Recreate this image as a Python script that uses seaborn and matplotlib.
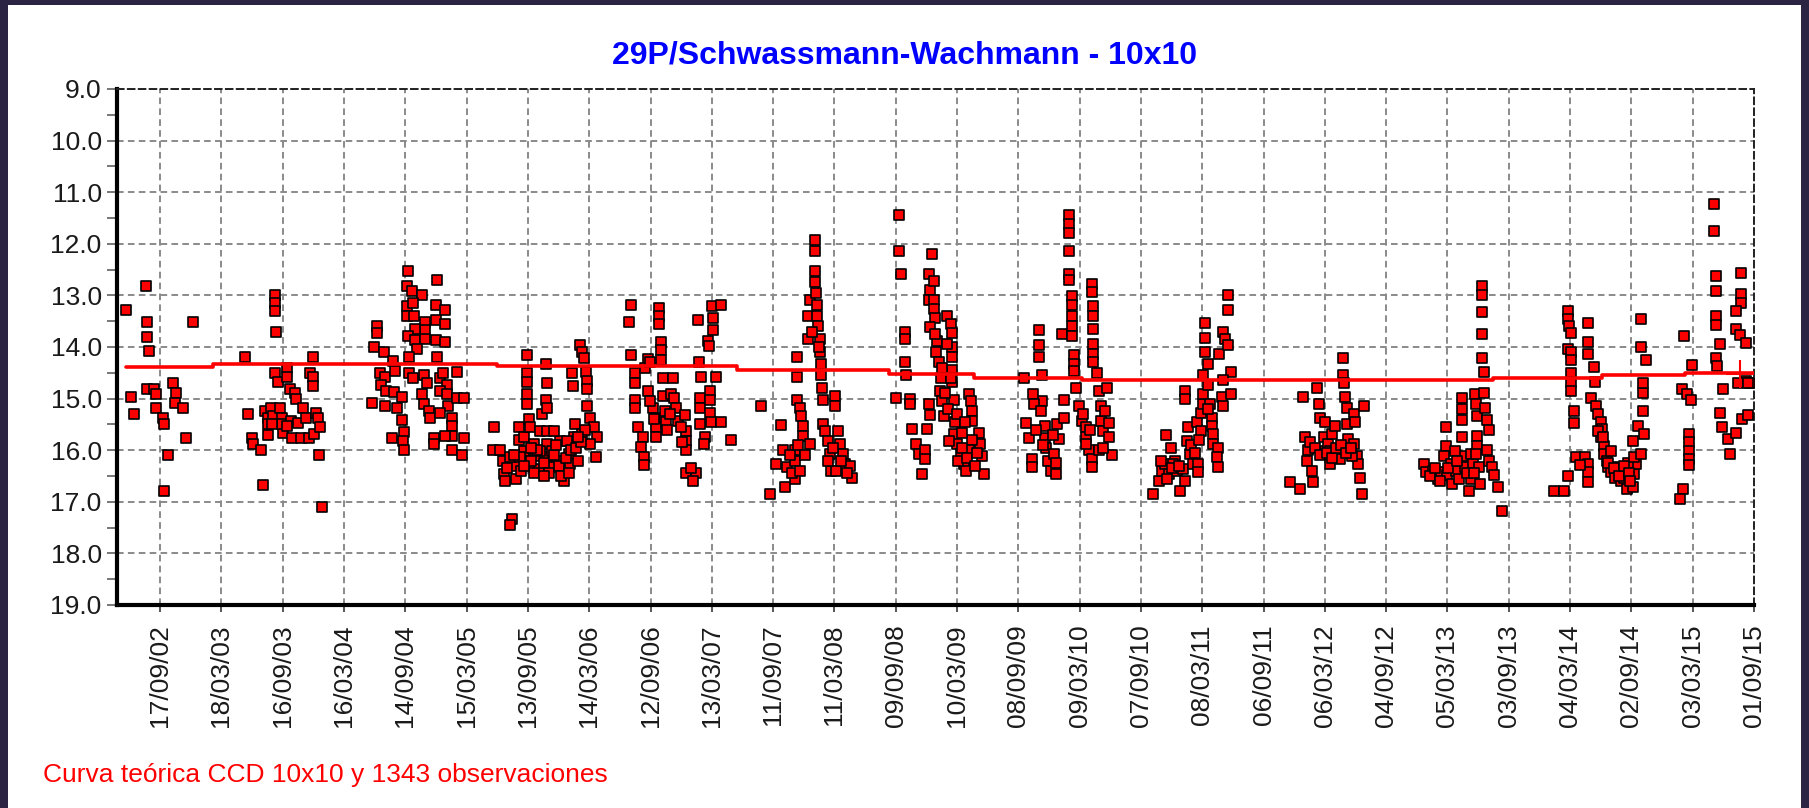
import numpy as np
import pandas as pd
import seaborn as sns
import matplotlib.pyplot as plt
import matplotlib.dates as mdates
from matplotlib.patches import Rectangle
from matplotlib.ticker import FormatStrFormatter, MultipleLocator

# observations per apparition: (days since 17/09/2002, magnitude)
season_2002 = [(-100, 13.29), (-42, 12.81), (-39, 13.52), (-40, 13.80), (-34, 14.08), (99, 13.52), (-87, 14.96),
               (-79, 15.29), (-39, 14.81), (-18, 14.81), (-13, 14.91), (-11, 15.18), (10, 15.37), (12, 15.50),
               (39, 14.70), (47, 14.89), (45, 15.08), (68, 15.18), (76, 15.76), (24, 16.10), (12, 16.79)]
season_2003 = [(252, 14.19), (342, 13.00), (342, 13.15), (342, 13.30), (344, 13.71), (453, 14.19), (341, 14.51),
               (351, 14.67), (378, 14.40), (378, 14.58), (385, 14.81), (401, 14.90), (403, 15.00), (445, 14.51),
               (455, 14.59), (453, 14.76), (262, 15.29), (274, 15.76), (276, 15.88), (299, 16.00), (304, 16.67),
               (311, 15.25), (319, 15.37), (319, 15.50), (321, 15.70), (329, 15.18), (334, 15.34), (357, 15.18),
               (362, 15.37), (364, 15.66), (362, 15.50), (388, 15.44), (393, 15.76), (408, 15.47), (418, 15.76),
               (423, 15.18), (433, 15.37), (443, 15.76), (458, 15.69), (463, 15.27), (468, 15.37), (474, 15.56),
               (472, 16.09), (482, 17.10), (332, 15.50), (378, 15.53)]
season_2004 = [(735, 12.52), (822, 12.71), (733, 12.81), (748, 12.91), (777, 13.00), (733, 13.20), (752, 13.15),
               (820, 13.19), (846, 13.29), (645, 13.59), (645, 13.73), (733, 13.39), (754, 13.40), (785, 13.51),
               (785, 13.68), (757, 13.65), (820, 13.48), (846, 13.56), (735, 13.78), (757, 13.87), (785, 13.85),
               (820, 13.87), (846, 13.90), (762, 14.04), (636, 14.00), (665, 14.10), (691, 14.27), (740, 14.19),
               (822, 14.19), (653, 14.51), (668, 14.58), (698, 14.47), (655, 14.73), (671, 14.85), (693, 14.88),
               (719, 14.97), (629, 15.08), (668, 15.15), (703, 15.18), (718, 15.42), (723, 15.65), (688, 15.76),
               (721, 15.82), (723, 16.00), (740, 14.51), (752, 14.60), (782, 14.54), (792, 14.70), (777, 14.92),
               (782, 15.11), (797, 15.25), (802, 15.37), (812, 15.76), (812, 15.88), (832, 14.60), (841, 14.51),
               (851, 14.73), (832, 14.85), (853, 14.92), (856, 15.15), (832, 15.28), (866, 15.37), (866, 15.53),
               (866, 15.72), (881, 14.49), (881, 14.99), (903, 14.99), (903, 15.76), (866, 16.00), (896, 16.09),
               (846, 15.72)]
season_2005 = [(990, 15.55), (988, 16.00), (1008, 16.00), (1018, 16.20), (1022, 16.46), (1025, 16.59), (1044, 17.34),
               (1040, 17.44), (1057, 16.56), (1057, 16.30), (1064, 15.55), (1064, 15.80), (1079, 15.74), (1079, 16.01),
               (1089, 14.16), (1089, 14.51), (1089, 14.67), (1089, 14.92), (1089, 15.11), (1094, 15.40), (1099, 15.55),
               (1094, 16.28), (1109, 15.88), (1114, 16.11), (1124, 16.37), (1129, 15.62), (1134, 15.30), (1146, 14.33),
               (1148, 14.70), (1146, 15.02), (1148, 15.18), (1148, 15.62), (1148, 15.88), (1148, 16.14), (1163, 16.01),
               (1178, 16.20), (1188, 15.82), (1196, 16.40), (1200, 16.59), (1213, 16.08), (1218, 16.27), (1228, 15.74),
               (1232, 15.50), (1242, 16.20), (1247, 13.97), (1252, 14.10), (1259, 14.22), (1222, 14.51), (1227, 14.76),
               (1265, 14.49), (1267, 14.65), (1267, 14.81), (1267, 15.15), (1275, 15.37), (1287, 15.55), (1297, 15.74),
               (1295, 16.14), (1277, 15.88), (1252, 15.69), (1168, 15.62), (1208, 15.82), (1039, 16.14), (1069, 16.14),
               (1129, 16.01), (1163, 16.33), (1030, 16.35), (1050, 16.10), (1070, 16.40), (1100, 16.20), (1110, 16.45),
               (1120, 16.00), (1140, 16.25), (1155, 16.45), (1170, 16.10), (1185, 16.30), (1205, 16.15), (1220, 16.00),
               (1235, 15.95), (1250, 15.85), (1260, 15.60), (1190, 16.50), (1140, 16.50), (1080, 16.30), (1100, 15.95),
               (1175, 15.90), (1215, 16.45), (1240, 15.75)]
season_2006 = [(1399, 13.19), (1391, 13.52), (1397, 14.16), (1409, 14.51), (1411, 14.70), (1411, 15.02), (1411, 15.18),
               (1419, 15.55), (1433, 15.74), (1428, 15.93), (1436, 16.14), (1436, 16.28), (1448, 14.85), (1448, 14.23),
               (1480, 13.24), (1480, 13.39), (1480, 13.56), (1486, 13.90), (1486, 14.06), (1486, 14.25), (1463, 15.18),
               (1468, 15.37), (1473, 15.55), (1473, 15.74), (1493, 14.60), (1493, 14.95), (1498, 15.24), (1503, 15.46),
               (1518, 14.92), (1522, 14.60), (1527, 14.99), (1532, 15.18), (1537, 15.44), (1557, 15.32), (1562, 15.62),
               (1562, 15.82), (1562, 16.00), (1562, 16.44), (1592, 16.44), (1582, 16.59), (1597, 13.48), (1599, 14.30),
               (1607, 14.58), (1602, 14.99), (1604, 15.18), (1604, 15.50), (1618, 15.74), (1615, 15.88), (1628, 13.89),
               (1631, 13.98), (1638, 13.21), (1641, 13.43), (1641, 13.68), (1664, 13.19), (1634, 14.85), (1634, 15.02),
               (1634, 15.27), (1636, 15.46), (1651, 14.58), (1664, 15.46), (1694, 15.80), (1455, 15.05), (1465, 15.40),
               (1505, 15.60), (1515, 15.30), (1545, 15.55), (1550, 15.85), (1575, 16.35), (1440, 14.40), (1455, 14.30)]
season_2007 = [(1783, 15.14), (1812, 16.85), (1842, 15.51), (1829, 16.27), (1849, 16.00), (1854, 16.72), (1862, 16.33),
               (1884, 16.56), (1884, 16.20), (1886, 16.00), (1892, 15.02), (1899, 15.18), (1904, 15.34), (1909, 15.53),
               (1909, 15.72), (1928, 15.88), (1892, 14.19), (1892, 14.58), (1923, 13.84), (1923, 13.39), (1928, 13.08),
               (1943, 11.93), (1943, 12.14), (1943, 12.53), (1943, 12.75), (1951, 13.19), (1951, 13.39), (1953, 13.59),
               (1958, 13.84), (1958, 14.10), (1961, 14.33), (1961, 14.54), (1965, 14.79), (1968, 15.02), (2003, 14.95),
               (2003, 15.14), (1968, 15.50), (1975, 15.62), (1983, 15.82), (1988, 16.08), (1993, 16.40), (2012, 15.62),
               (2017, 15.88), (2027, 16.08), (2032, 16.27), (2047, 16.30), (2054, 16.53), (2007, 16.40), (1983, 16.20),
               (1870, 16.10), (1875, 16.45), (1895, 15.90), (1900, 16.40), (1915, 16.10), (1935, 13.70), (1948, 12.95),
               (1955, 14.00), (1998, 15.95), (2020, 16.20), (2040, 16.45)]
season_2008 = [(2195, 11.44), (2195, 12.14), (2201, 12.58), (2291, 12.19), (2210, 13.71), (2210, 13.85), (2210, 14.29),
               (2215, 14.54), (2186, 14.99), (2225, 15.00), (2225, 15.10), (2233, 15.59), (2243, 15.88), (2253, 16.08),
               (2271, 16.00), (2271, 16.17), (2261, 16.46), (2278, 15.59), (2283, 15.11), (2285, 15.31), (2283, 12.58),
               (2287, 12.89), (2297, 12.73), (2283, 13.08), (2297, 13.08), (2297, 13.27), (2300, 13.43), (2287, 13.62),
               (2307, 13.88), (2304, 14.10), (2312, 14.29), (2317, 14.61), (2314, 14.85), (2322, 15.05), (2327, 15.34),
               (2337, 13.40), (2347, 13.56), (2352, 13.72), (2352, 14.00), (2350, 14.19), (2352, 14.44), (2352, 14.67),
               (2357, 15.02), (2360, 15.46), (2357, 15.69), (2367, 15.88), (2377, 16.08), (2387, 16.27), (2392, 16.40),
               (2401, 14.92), (2406, 15.05), (2409, 15.24), (2411, 15.44), (2431, 15.66), (2433, 15.88), (2439, 16.11),
               (2446, 16.46), (2409, 15.81), (2401, 16.00), (2382, 15.66), (2342, 15.82), (2347, 14.60), (2300, 13.75),
               (2320, 14.40), (2330, 14.90), (2340, 15.20), (2365, 15.30), (2370, 16.20), (2380, 15.95), (2395, 16.15),
               (2420, 16.30), (2425, 16.05), (2390, 15.45), (2335, 13.95)]
season_2009 = [(2565, 14.61), (2609, 13.67), (2609, 13.97), (2609, 14.19), (2617, 14.54), (2617, 15.04), (2591, 14.92),
               (2594, 15.11), (2572, 15.48), (2580, 15.76), (2588, 16.17), (2588, 16.33), (2614, 15.24), (2627, 15.53),
               (2627, 15.76), (2629, 15.95), (2637, 16.20), (2644, 16.40), (2654, 16.08), (2661, 16.24), (2661, 16.46),
               (2669, 15.78), (2664, 15.50), (2684, 15.02), (2684, 15.37), (2678, 13.75), (2698, 11.44), (2698, 11.62),
               (2698, 11.80), (2698, 12.14), (2698, 12.58), (2698, 12.70), (2706, 13.01), (2706, 13.19), (2706, 13.39),
               (2706, 13.59), (2706, 13.78), (2713, 14.16), (2713, 14.32), (2713, 14.47), (2720, 14.79), (2728, 15.14),
               (2736, 15.44), (2748, 15.56), (2750, 15.75), (2758, 16.00), (2766, 16.17), (2766, 16.33), (2766, 12.78),
               (2766, 12.93), (2770, 13.21), (2770, 13.40), (2770, 13.65), (2770, 13.94), (2770, 14.13), (2770, 14.29),
               (2780, 14.51), (2786, 14.85), (2793, 15.14), (2793, 15.44), (2798, 15.62), (2810, 14.79), (2817, 15.48),
               (2817, 15.75), (2825, 16.09), (2788, 16.00), (2748, 15.88), (2600, 15.60), (2620, 15.90), (2650, 15.70),
               (2740, 15.30), (2760, 15.60), (2800, 15.95), (2805, 15.25)]
season_2010 = [(2949, 16.85), (2967, 16.59), (2974, 16.40), (2986, 15.71), (3000, 15.95), (2983, 16.27), (2996, 16.46),
               (3013, 16.20), (3018, 16.40), (3028, 16.80), (3043, 16.59), (3036, 16.37), (3050, 15.82), (3053, 15.55),
               (3058, 16.08), (3067, 16.26), (3082, 16.27), (3082, 16.43), (3077, 15.46), (3089, 15.62), (3089, 15.27),
               (3095, 15.11), (3095, 14.92), (3102, 13.53), (3102, 13.82), (3102, 14.10), (3112, 14.32), (3097, 14.54),
               (3112, 14.73), (3117, 15.11), (3122, 15.37), (3122, 15.53), (3127, 15.69), (3127, 15.88), (3142, 15.95),
               (3139, 16.14), (3142, 16.33), (3145, 14.13), (3156, 13.71), (3161, 13.84), (3171, 13.97), (3171, 13.00),
               (3171, 13.29), (3178, 14.48), (3156, 14.64), (3152, 14.96), (3155, 15.15), (3178, 14.91), (3043, 14.85),
               (3043, 15.00), (2970, 16.20), (3008, 16.27), (2990, 16.55), (3005, 16.35), (3025, 16.30), (3060, 15.90),
               (3072, 16.05), (3085, 15.80), (3110, 15.20)]
season_2011 = [(3355, 16.62), (3384, 16.76), (3392, 14.96), (3399, 15.75), (3404, 16.20), (3409, 16.00), (3414, 15.85),
               (3419, 16.40), (3422, 16.62), (3436, 14.79), (3442, 15.11), (3444, 15.37), (3454, 15.75), (3458, 15.46),
               (3458, 16.01), (3468, 15.88), (3473, 16.27), (3478, 15.69), (3488, 15.53), (3498, 16.14), (3503, 16.18),
               (3511, 14.22), (3511, 14.54), (3515, 14.70), (3518, 14.96), (3523, 15.18), (3525, 15.50), (3528, 15.78),
               (3545, 15.30), (3548, 15.46), (3545, 15.88), (3553, 16.11), (3555, 16.27), (3561, 16.53), (3568, 16.85),
               (3574, 15.14), (3538, 16.11), (3473, 16.01), (3430, 15.95), (3445, 16.10), (3465, 16.05), (3480, 16.15),
               (3490, 15.95), (3505, 15.90), (3520, 16.05), (3535, 15.95)]
season_2012 = [(3753, 16.27), (3758, 16.43), (3778, 16.40), (3793, 16.56), (3803, 16.43), (3818, 15.55), (3818, 15.91),
               (3813, 16.11), (3821, 16.49), (3835, 16.65), (3833, 16.27), (3847, 16.40), (3857, 16.56), (3864, 14.99),
               (3864, 15.21), (3864, 15.42), (3864, 15.75), (3870, 16.11), (3874, 16.33), (3887, 16.80), (3892, 16.56),
               (3892, 16.08), (3897, 16.27), (3904, 14.92), (3907, 15.11), (3910, 15.34), (3910, 15.72), (3910, 15.91),
               (3917, 16.33), (3920, 16.66), (3924, 12.81), (3924, 13.00), (3924, 13.33), (3924, 13.75), (3924, 14.22),
               (3930, 14.48), (3930, 14.90), (3932, 15.18), (3940, 15.42), (3946, 15.61), (3940, 16.00), (3946, 16.20),
               (3953, 16.33), (3961, 16.49), (3971, 16.72), (3983, 17.17), (3843, 16.01), (3907, 16.08), (3770, 16.50),
               (3785, 16.35), (3800, 16.60), (3825, 16.35), (3850, 16.20), (3880, 16.45), (3900, 16.45)]
season_2013 = [(4137, 16.80), (4167, 16.80), (4179, 16.50), (4179, 13.30), (4179, 13.46), (4184, 13.59), (4189, 13.72),
               (4179, 14.03), (4189, 14.10), (4189, 14.25), (4189, 14.51), (4189, 14.68), (4189, 14.85), (4199, 15.24),
               (4197, 15.48), (4204, 16.14), (4229, 16.14), (4239, 16.27), (4240, 16.43), (4238, 16.62), (4216, 16.28),
               (4240, 13.53), (4240, 13.91), (4240, 14.13), (4256, 14.38), (4260, 14.68), (4248, 14.99), (4263, 15.14),
               (4268, 15.30), (4278, 15.46), (4280, 15.59), (4278, 15.75), (4288, 15.91), (4288, 16.08), (4296, 16.20),
               (4298, 16.33), (4308, 16.43), (4318, 16.53), (4327, 16.33), (4337, 16.59), (4347, 16.40), (4355, 16.76),
               (4372, 16.72), (4377, 16.46), (4382, 16.27), (4357, 16.24), (4377, 16.14), (4397, 16.08), (4372, 15.82),
               (4387, 15.53), (4406, 15.69), (4402, 15.24), (4402, 14.90), (4402, 14.70), (4412, 14.26), (4397, 14.00),
               (4397, 13.45), (4268, 15.62), (4308, 16.01), (4347, 16.53), (4300, 16.25), (4315, 16.35), (4330, 16.50),
               (4345, 16.30), (4360, 16.45), (4365, 16.60), (4285, 15.75)]
season_2014 = [(4613, 11.22), (4613, 11.75), (4619, 12.62), (4619, 12.91), (4619, 13.40), (4619, 13.58), (4632, 13.95),
               (4619, 14.21), (4623, 14.37), (4694, 12.56), (4694, 12.98), (4694, 13.14), (4678, 13.31), (4678, 13.66),
               (4690, 13.76), (4708, 13.92), (4708, 14.66), (4720, 14.69), (4685, 14.69), (4525, 13.78), (4549, 14.35),
               (4517, 14.82), (4534, 14.92), (4544, 15.03), (4540, 15.69), (4540, 15.85), (4540, 16.02), (4540, 16.18),
               (4540, 16.29), (4522, 16.76), (4513, 16.95), (4632, 15.27), (4638, 15.56), (4655, 15.79), (4661, 16.08),
               (4641, 14.82), (4678, 15.66), (4697, 15.40), (4714, 15.31), (4714, 14.69)]

# theoretical CCD 10x10 curve (step line)
curve_days = [-102, 156, 1000, 1712, 2165, 2417, 2738, 3958, 4280, 4527, 4732]
curve_mags = [14.38, 14.32, 14.36, 14.45, 14.53, 14.60, 14.64, 14.60, 14.55, 14.51, 14.51]
last_day, last_mag = 4691, 14.53

start = pd.Timestamp('2002-09-17')
tick_dates = pd.date_range(start, periods=27, freq='182D')

seasons = [season_2002, season_2003, season_2004, season_2005, season_2006, season_2007, season_2008,
           season_2009, season_2010, season_2011, season_2012, season_2013, season_2014]
obs = pd.DataFrame([p for s in seasons for p in s], columns=['day', 'mag'])
obs['date'] = start + pd.to_timedelta(obs['day'], unit='D')
curve = pd.DataFrame({'date': start + pd.to_timedelta(curve_days, unit='D'), 'mag': curve_mags})

sns.set_theme(style='white')
plt.rcParams['font.family'] = ['Liberation Sans', 'DejaVu Sans']

W, H = 1809, 808
fig = plt.figure(figsize=(W / 100, H / 100), dpi=100, facecolor='#2c2443')
fig.patches.append(Rectangle((8 / W, 0), 1793 / W, 803 / H, transform=fig.transFigure,
                             facecolor='white', edgecolor='none', zorder=-10))
ax = fig.add_axes([117 / W, 1 - 605 / H, (1754 - 117) / W, (605 - 89) / H])
ax.set_facecolor('white')

sns.scatterplot(data=obs, x='date', y='mag', marker='s', s=52, color='#ff0000', edgecolor='black',
                linewidth=1.2, ax=ax, zorder=3, legend=False)
ax.plot(curve['date'], curve['mag'], drawstyle='steps-post', color='#ff0000', lw=2.6, zorder=4)
ax.plot([start + pd.Timedelta(days=last_day)], [last_mag], marker='+', ms=20, mew=1.5, color='#ff0000', zorder=5)

ax.set_ylim(19, 9)
ax.set_xlim(start - pd.Timedelta(days=128), start + pd.Timedelta(days=4732))
ax.set_yticks(np.arange(9, 19.5, 1))
ax.yaxis.set_major_formatter(FormatStrFormatter('%.1f'))
ax.yaxis.set_minor_locator(MultipleLocator(0.5))
ax.set_xticks(tick_dates)
ax.xaxis.set_major_formatter(mdates.DateFormatter('%d/%m/%y'))
for lab in ax.get_xticklabels():
    lab.set_rotation(90)

ax.grid(True, which='major', color='#8a8a8a', linestyle=(0, (3.4, 2.2)), linewidth=1.4, zorder=0)
ax.set_axisbelow(True)
ax.tick_params(axis='y', which='both', direction='out', left=True, length=7, width=1.4, color='#777777',
               pad=4, labelsize=19, labelcolor='#1a1a1a')
ax.tick_params(axis='x', which='major', direction='out', bottom=True, length=5, width=1.4, color='#555555',
               pad=9, labelsize=19, labelcolor='#1a1a1a')
ax.set_xlabel('')
ax.set_ylabel('')

for side in ['left', 'bottom']:
    ax.spines[side].set_color('black')
    ax.spines[side].set_linewidth(3)
for side in ['top', 'right']:
    ax.spines[side].set_color('#222222')
    ax.spines[side].set_linewidth(1.4)
    ax.spines[side].set_linestyle((0, (3.4, 2.2)))

fig.text(0.5, 1 - 55 / H, '29P/Schwassmann-Wachmann - 10x10', ha='center', va='center',
         color='#0000ff', fontsize=23, fontweight='bold')
fig.text(43 / W, 1 - 775 / H, 'Curva teórica CCD 10x10 y 1343 observaciones', ha='left', va='center',
         color='#ff0000', fontsize=19)

fig.savefig('out.png', dpi=100, facecolor=fig.get_facecolor())
